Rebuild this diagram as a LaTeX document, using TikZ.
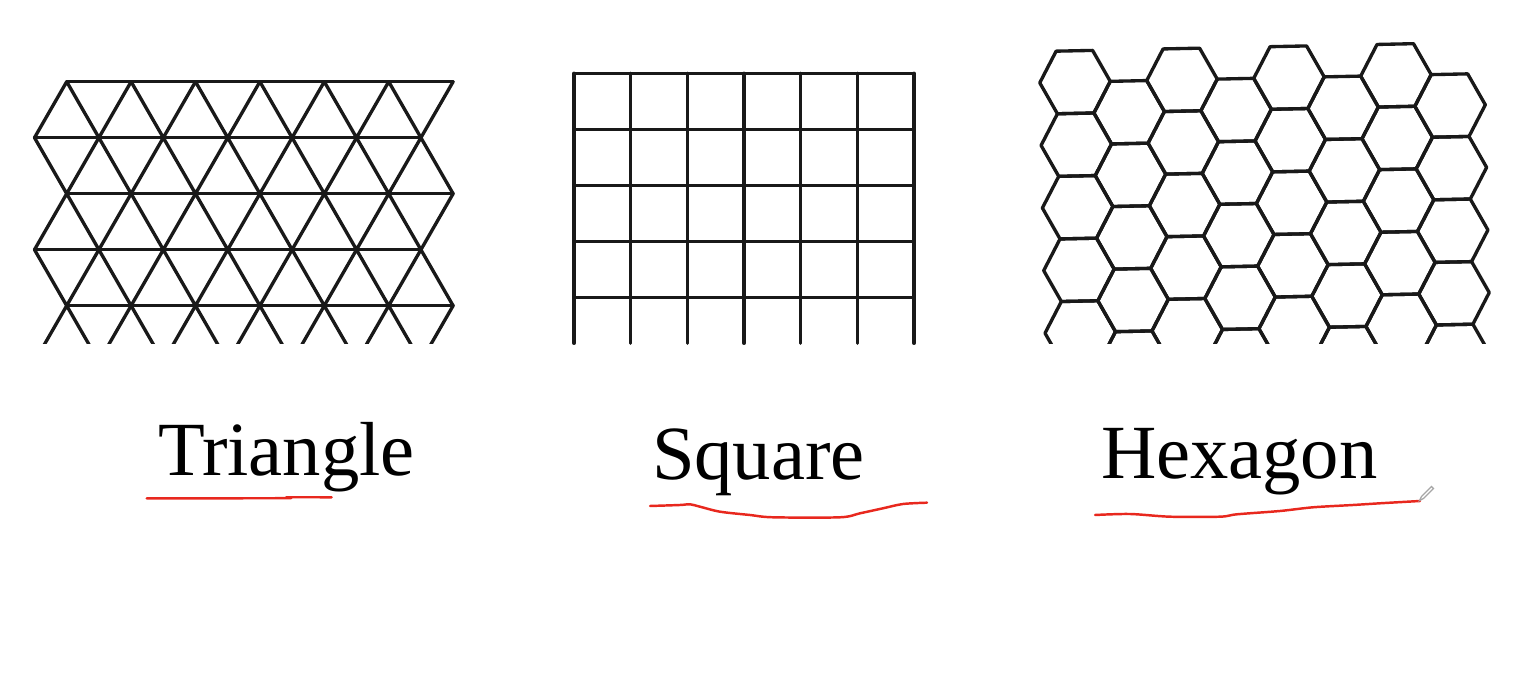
\documentclass[tikz,border=0pt]{standalone}
\usepackage{fontspec}
\setmainfont{Liberation Serif}
\usepackage{tikz}
\usetikzlibrary{positioning}

\definecolor{penred}{RGB}{232,40,30}

\begin{document}
\begin{tikzpicture}[
    gridline/.style={line width=0.95pt, black!90, line cap=round, line join=round},
    tilename/.style={anchor=base west, inner sep=0pt, outer sep=0pt, font=\fontsize{21.8}{26}\selectfont},
    underline/.style={penred, line width=0.7pt, line cap=round, line join=round},
    cursor/.style={draw=gray!70, fill=white, line width=0.35pt}
]
\useasboundingbox (0,0) rectangle (15.19,6.73);

% === Triangle tiling ===
\begin{scope}
\clip (0,3.297) rectangle (5,6.73);
% horizontal rows
\foreach \r in {0,...,4} {
  \pgfmathsetmacro{\xs}{mod(\r,2)==0 ? 0.667 : 0.345}
  \draw[gridline] (\xs,{5.913-\r*0.56}) -- ++(3.864,0);
}
% diagonals, one zigzag per band
\foreach \r in {0,...,4} {
  \pgfmathsetmacro{\ye}{5.913-(\r+mod(\r,2))*0.56}
  \pgfmathsetmacro{\yo}{5.913-(\r+1-mod(\r,2))*0.56}
  \pgfmathsetmacro{\dy}{\ye-\yo}
  \draw[gridline] (0.345,\yo) \foreach \k in {0,...,5} { -- ++(0.322,\dy) -- ++(0.322,-\dy) } -- ++(0.322,\dy);
}
\end{scope}

% === Square tiling ===
\begin{scope}
\foreach \c in {0,...,6}
  \draw[gridline] ({5.74+\c*0.5667},5.997) -- ({5.74+\c*0.5667},3.297);
\foreach \r in {0,...,4}
  \draw[gridline] (5.74,{5.997-\r*0.561}) -- (9.14,{5.997-\r*0.561});
\end{scope}

% === Hexagon tiling ===
\begin{scope}
\clip (10,3.297) rectangle (15.19,6.73);
\begin{scope}[shift={(10.75,5.909)}, rotate=1.2]
\foreach \c in {0,...,7}
  \foreach \r in {0,...,4}
    \draw[gridline] ({\c*0.535},{-\r*0.626-mod(\c,2)*0.313}) ++(-0.3525,0)
      -- ++(0.17,0.313) -- ++(0.365,0) -- ++(0.17,-0.313)
      -- ++(-0.17,-0.313) -- ++(-0.365,0) -- cycle;
\end{scope}
\end{scope}

% === Labels ===
\node[tilename] (trilabel) at (1.58,1.97) {Triangle};
\node[tilename] (sqlabel) at (6.52,1.93) {Square};
\node[tilename] (hexlabel) at (11.01,1.947) {Hexagon};

% === Red pen strokes ===
\draw[underline] plot[smooth, tension=0.4] coordinates {(1.467,1.747) (2.85,1.748) (2.87,1.757) (3.317,1.757)};
\draw[underline] plot[smooth, tension=0.5] coordinates {(6.50,1.67) (6.80,1.68) (6.90,1.687) (7.00,1.663) (7.20,1.613) (7.50,1.58) (7.73,1.557) (8.40,1.557) (8.60,1.597) (8.83,1.647) (9.03,1.69) (9.27,1.703)};
\draw[underline] plot[smooth, tension=0.5] coordinates {(10.95,1.58) (11.30,1.59) (11.70,1.563) (12.20,1.563) (12.37,1.587) (12.80,1.62) (13.13,1.657) (13.53,1.68) (13.80,1.697) (14.20,1.72)};

% pen cursor
\draw[cursor] (14.195,1.725) -- (14.215,1.765) -- (14.315,1.865) -- (14.335,1.845) -- (14.235,1.745) -- cycle;

\end{tikzpicture}
\end{document}
